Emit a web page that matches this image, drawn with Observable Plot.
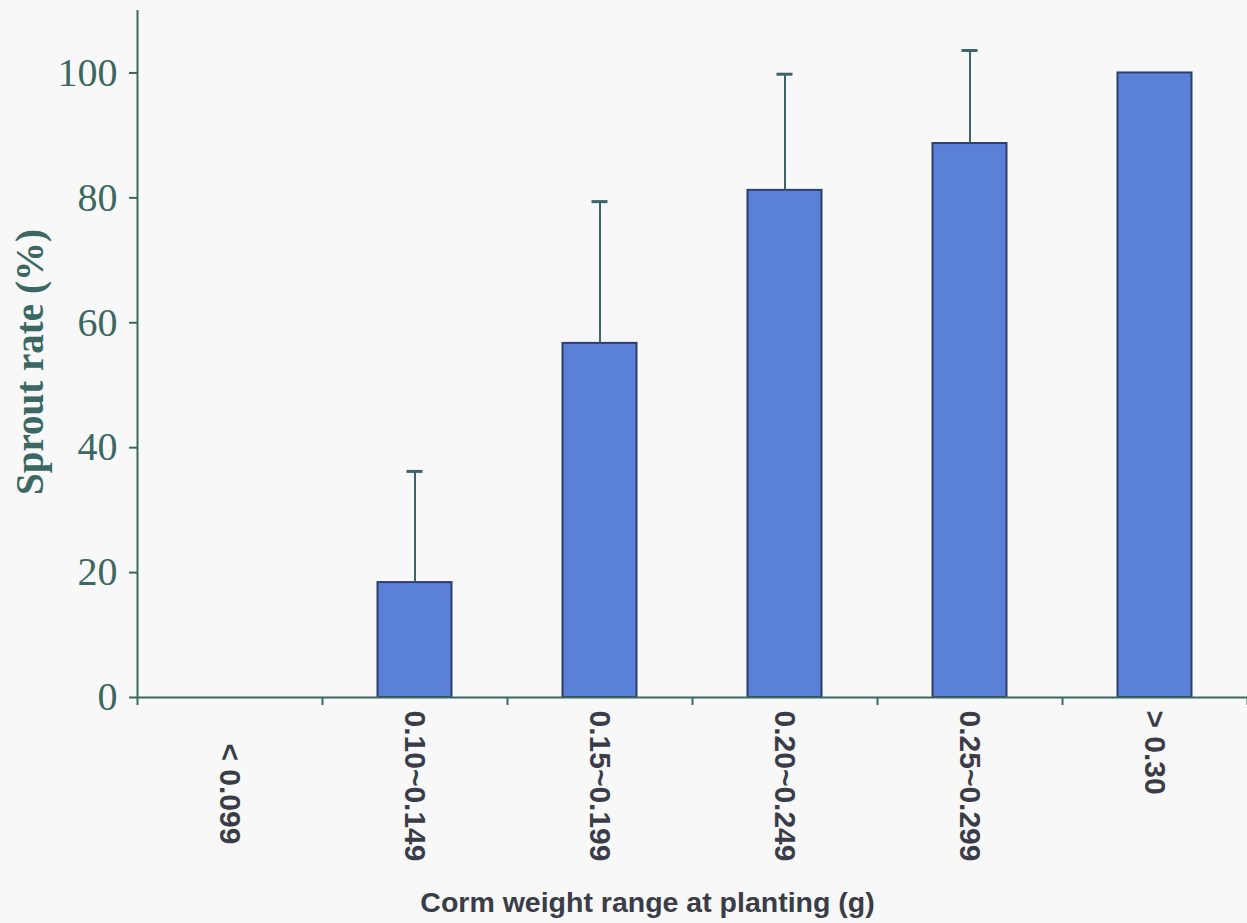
<!DOCTYPE html>
<html>
<head>
<meta charset="utf-8">
<script src="https://cdn.jsdelivr.net/npm/d3@7"></script>
<script src="https://cdn.jsdelivr.net/npm/@observablehq/plot@0.6"></script>
<style>
  html, body { margin: 0; padding: 0; background: #f7f8f7; }
  #chart { width: 1247px; height: 923px; overflow: hidden; }
</style>
</head>
<body>
<div id="chart"></div>
<script>
const categories = ["< 0.099", "0.10~0.149", "0.15~0.199", "0.20~0.249", "0.25~0.299", "> 0.30"];
const sproutRate = [0, 18.4, 56.7, 81.2, 88.7, 100];
const sdUpper = [0, 17.8, 22.7, 18.6, 14.9, 0];
const yTicks = [0, 20, 40, 60, 80, 100];
const yTitle = "Sprout rate (%)";
const xTitle = "Corm weight range at planting (g)";

const data = categories.map((c, i) => ({cat: c, rate: sproutRate[i], sd: sdUpper[i]}));
const withErr = data.filter(d => d.sd > 0);

const axisColor = "#3b6862";
const labelColor = "#3a3d48";
const halfStep = 92.5;

const chart = Plot.plot({
  width: 1247,
  height: 923,
  marginLeft: 137,
  marginRight: 0,
  marginTop: 10,
  marginBottom: 226,
  style: {background: "#f7f8f7", color: axisColor, fontFamily: "'Liberation Serif', 'Times New Roman', serif"},
  x: {domain: categories, paddingInner: 0.6, paddingOuter: 0.3, round: false, axis: null},
  y: {domain: [0, 110], axis: null},
  marks: [
    Plot.barY(data, {x: "cat", y: "rate", fill: "#5b80d8", stroke: "#2f3d6c", strokeWidth: 2, filter: d => d.rate > 0}),
    Plot.ruleX(withErr, {x: "cat", y1: "rate", y2: d => d.rate + d.sd, stroke: "#3d6468", strokeWidth: 2}),
    Plot.tickY(withErr, {x: "cat", y: d => d.rate + d.sd, stroke: "#3d6468", strokeWidth: 3, insetLeft: 29, insetRight: 29}),
    Plot.ruleY([0], {stroke: axisColor, strokeWidth: 2}),
    Plot.ruleX([categories[0]], {dx: -halfStep, y1: -1.28, y2: 110, stroke: axisColor, strokeWidth: 2}),
    Plot.ruleX(categories.slice(1), {dx: -halfStep, y1: -1.28, y2: 0, stroke: axisColor, strokeWidth: 2}),
    Plot.ruleX([categories[categories.length - 1]], {dx: halfStep, y1: -1.28, y2: 0, stroke: axisColor, strokeWidth: 2}),
    Plot.axisY({ticks: yTicks, tickSize: 8, tickPadding: 12, fontSize: 40, label: null, strokeWidth: 2, fill: axisColor}),
    Plot.text(data, {x: "cat", frameAnchor: "bottom", text: "cat", rotate: 90, textAnchor: "start", lineAnchor: "middle",
      dy: 13, fontSize: 30, fontWeight: "bold", fontFamily: "'Liberation Sans', Arial, sans-serif", fill: labelColor,
      filter: d => !d.cat.startsWith("<")}),
    Plot.text(data, {x: "cat", frameAnchor: "bottom", text: "cat", rotate: 90, textAnchor: "start", lineAnchor: "middle",
      dy: 46, fontSize: 30, fontWeight: "bold", fontFamily: "'Liberation Sans', Arial, sans-serif", fill: labelColor,
      filter: d => d.cat.startsWith("<")}),
    Plot.text([yTitle], {frameAnchor: "left", text: d => d, rotate: -90, textAnchor: "middle", lineAnchor: "middle", dx: -107, dy: 8,
      fontSize: 39, fontWeight: "bold", fill: axisColor}),
    Plot.text([xTitle], {frameAnchor: "bottom", text: d => d, textAnchor: "middle", lineAnchor: "middle", dx: -45, dy: 205,
      fontSize: 28.5, fontWeight: "bold", fontFamily: "'Liberation Sans', Arial, sans-serif", fill: labelColor})
  ]
});
document.getElementById("chart").appendChild(chart);
</script>
</body>
</html>
